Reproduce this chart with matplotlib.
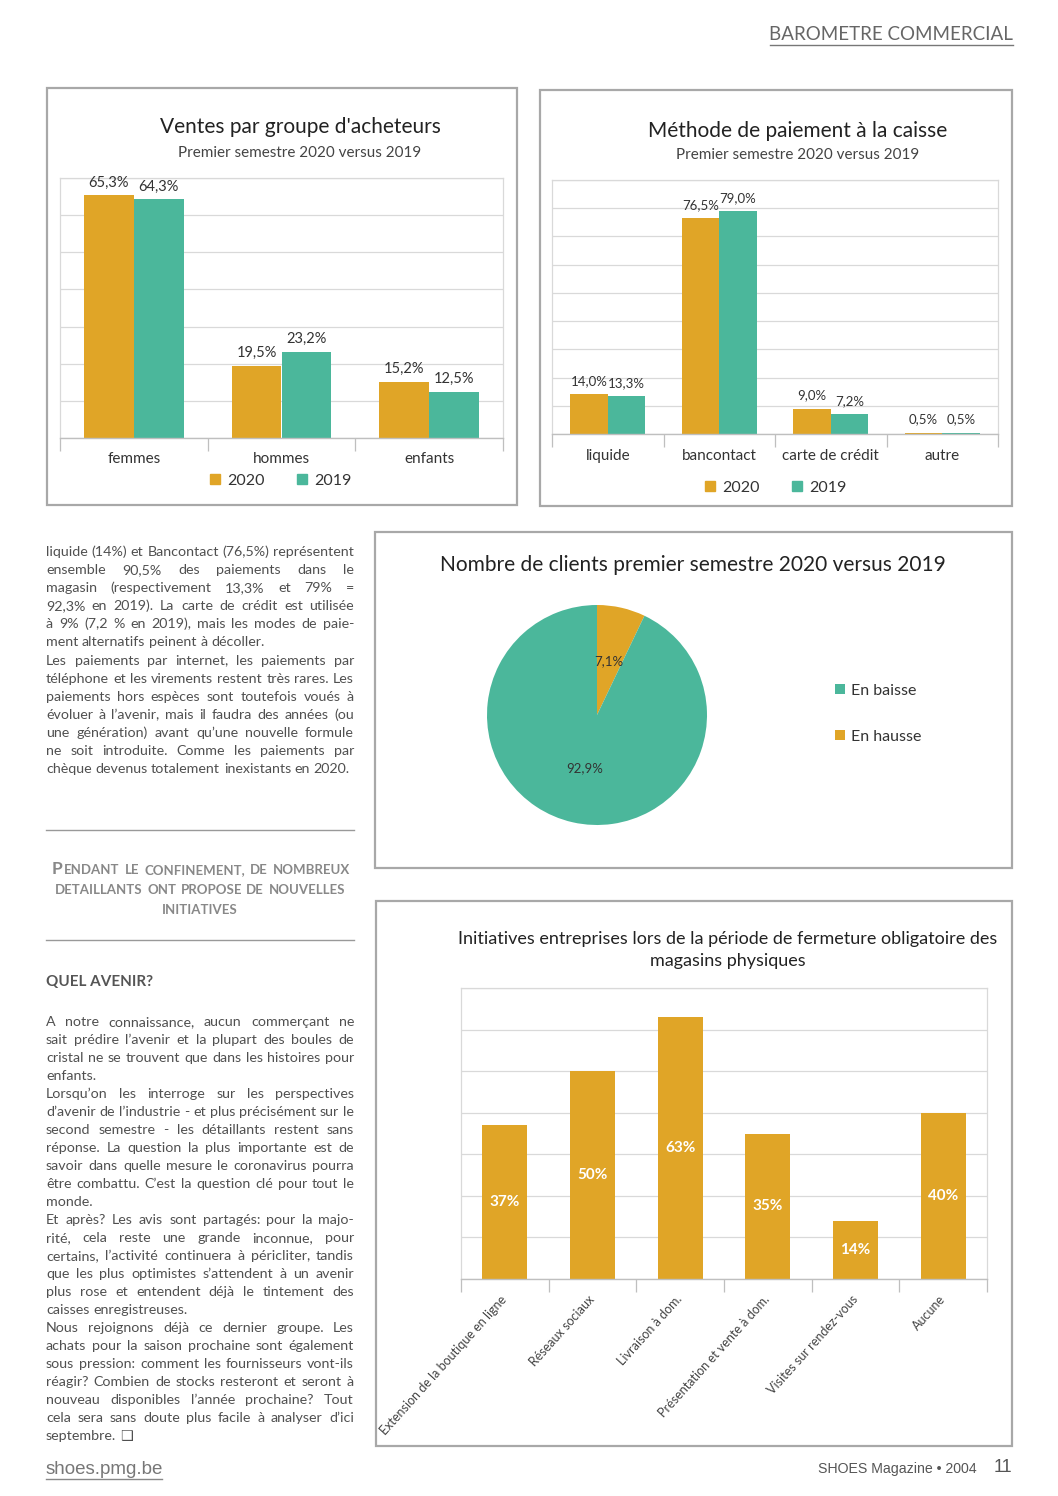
import matplotlib
matplotlib.use('Agg')
import matplotlib.pyplot as plt
from matplotlib.patches import Rectangle, Patch
from matplotlib.lines import Line2D
import numpy as np

plt.rcParams['font.family'] = ['Lato', 'DejaVu Sans']

# ---------------- data ----------------
groups = ['femmes', 'hommes', 'enfants']
ventes_2020 = [65.3, 19.5, 15.2]
ventes_2019 = [64.3, 23.2, 12.5]

methodes = ['liquide', 'bancontact', 'carte de crédit', 'autre']
paie_2020 = [14.0, 76.5, 9.0, 0.5]
paie_2019 = [13.3, 79.0, 7.2, 0.5]

pie_labels = ['En hausse', 'En baisse']
pie_values = [7.1, 92.9]

initiatives = ['Extension de la boutique en ligne', 'Réseaux sociaux', 'Livraison à dom.',
               'Présentation et vente à dom.', 'Visites sur rendez-vous', 'Aucune']
init_values = [37, 50, 63, 35, 14, 40]

years = ['2020', '2019']

para1 = [
    "liquide (14%) et Bancontact (76,5%) représentent",
    "ensemble 90,5% des paiements dans le",
    "magasin (respectivement 13,3% et 79% =",
    "92,3% en 2019). La carte de crédit est utilisée",
    "à 9% (7,2 % en 2019), mais les modes de paie-",
    "ment alternatifs peinent à décoller.|",
    "Les paiements par internet, les paiements par",
    "téléphone et les virements restent très rares. Les",
    "paiements hors espèces sont toutefois voués à",
    "évoluer à l’avenir, mais il faudra des années (ou",
    "une génération) avant qu’une nouvelle formule",
    "ne soit introduite. Comme les paiements par",
    "chèque devenus totalement inexistants en 2020.|",
]
para2 = [
    "A notre connaissance, aucun commerçant ne",
    "sait prédire l’avenir et la plupart des boules de",
    "cristal ne se trouvent que dans les histoires pour",
    "enfants.|",
    "Lorsqu’on les interroge sur les perspectives",
    "d’avenir de l’industrie - et plus précisément sur le",
    "second semestre - les détaillants restent sans",
    "réponse. La question la plus importante est de",
    "savoir dans quelle mesure le coronavirus pourra",
    "être combattu. C’est la question clé pour tout le",
    "monde.|",
    "Et après? Les avis sont partagés: pour la majo-",
    "rité, cela reste une grande inconnue, pour",
    "certains, l’activité continuera à péricliter, tandis",
    "que les plus optimistes s’attendent à un avenir",
    "plus rose et entendent déjà le tintement des",
    "caisses enregistreuses.|",
    "Nous rejoignons déjà ce dernier groupe. Les",
    "achats pour la saison prochaine sont également",
    "sous pression: comment les fournisseurs vont-ils",
    "réagir? Combien de stocks resteront et seront à",
    "nouveau disponibles l’année prochaine? Tout",
    "cela sera sans doute plus facile à analyser d’ici",
    "septembre. ❑|",
]
quote = ["PENDANT LE CONFINEMENT, DE NOMBREUX", "DETAILLANTS ONT PROPOSE DE NOUVELLES", "INITIATIVES"]

GOLD = '#E0A527'
TEAL = '#4BB79B'
TXT = '#333333'
BODY = '#505050'

W, H = 1058, 1496
fig = plt.figure(figsize=(W / 100, H / 100), dpi=100)
fig.patch.set_facecolor('white')
renderer = fig.canvas.get_renderer()


def fx(x):
    return x / W


def fy(y):
    return 1 - y / H


def axes_px(x0, y0, x1, y1):
    return fig.add_axes([x0 / W, 1 - y1 / H, (x1 - x0) / W, (y1 - y0) / H])


def box(x0, y0, x1, y1):
    fig.add_artist(Rectangle((fx(x0), fy(y1)), (x1 - x0) / W, (y1 - y0) / H,
                             transform=fig.transFigure, fill=False,
                             edgecolor='#a8a8a8', lw=1.6))


def hline(x0, x1, y, color='#999999', lw=1.0):
    fig.add_artist(Line2D([fx(x0), fx(x1)], [fy(y), fy(y)], transform=fig.transFigure,
                          color=color, lw=lw))


def style_axes(ax, ymax, n, pad):
    ax.set_ylim(0, ymax)
    ax.set_xlim(-0.5, n - 0.5)
    ax.set_yticks(np.arange(0, ymax + 1, 10))
    ax.tick_params(axis='y', length=0, labelleft=False)
    ax.grid(axis='y', color='#d9d9d9', lw=0.9)
    ax.set_axisbelow(True)
    for s in ['left', 'top', 'right']:
        ax.spines[s].set_color('#d9d9d9')
        ax.spines[s].set_linewidth(0.9)
    ax.spines['bottom'].set_color('#bfbfbf')
    ax.spines['bottom'].set_linewidth(1.0)
    ax.set_xticks(range(n))
    ax.set_xticks(np.arange(-0.5, n, 1), minor=True)
    ax.tick_params(axis='x', which='major', length=0, pad=pad, colors=TXT)
    ax.tick_params(axis='x', which='minor', length=9, color='#bfbfbf', width=0.9)


def fmt(v):
    return f"{v:.1f}%".replace('.', ',')


def justify(lines, x0, x1, y0, dy, size, color, weight='normal'):
    sp_a = fig.text(0, 0, 'a a', fontsize=size, weight=weight)
    sp_b = fig.text(0, 0, 'aa', fontsize=size, weight=weight)
    space = sp_a.get_window_extent(renderer).width - sp_b.get_window_extent(renderer).width
    sp_a.remove(); sp_b.remove()
    for i, line in enumerate(lines):
        last = line.endswith('|')
        line = line.rstrip('|')
        words = line.split(' ')
        y = y0 + i * dy
        texts, widths = [], []
        for w in words:
            t = fig.text(0, 0, w, fontsize=size, color=color, weight=weight,
                         va='baseline', ha='left')
            texts.append(t)
            widths.append(t.get_window_extent(renderer).width)
        if last or len(words) == 1:
            gap = space
        else:
            gap = (x1 - x0 - sum(widths)) / (len(words) - 1)
        x = x0
        for t, wd in zip(texts, widths):
            t.set_position((fx(x), fy(y)))
            x += wd + gap


# ---------------- header / footer ----------------
fig.text(fx(1013), fy(34), 'BAROMETRE COMMERCIAL', ha='right', va='center',
         fontsize=13.5, color='#666666')
hline(770, 1013, 45, '#777777', 1.0)
fig.text(fx(46), fy(1469), 'shoes.pmg.be', ha='left', va='center', fontsize=13.5,
         color='#777777', family='Liberation Sans')
hline(46, 162, 1479, '#888888', 1.0)
fig.text(fx(977), fy(1469), 'SHOES Magazine • 2004', ha='right', va='center', fontsize=10.2,
         color='#555555', family='Liberation Sans')
fig.text(fx(1012), fy(1467), '11', ha='right', va='center', fontsize=13,
         color='#555555', family='Liberation Sans')

# ---------------- chart 1 ----------------
box(47, 88, 517, 505)
fig.text(fx(300), fy(127), "Ventes par groupe d'acheteurs", ha='center', va='center',
         fontsize=15, color='#222222')
fig.text(fx(300), fy(153), 'Premier semestre 2020 versus 2019', ha='center', va='center',
         fontsize=11, color='#444444')
ax1 = axes_px(60, 178, 503, 438)
style_axes(ax1, 70, 3, 10)
x = np.arange(3)
bw = 0.338
b1 = ax1.bar(x - bw / 2, ventes_2020, bw, color=GOLD, label=years[0])
b2 = ax1.bar(x + bw / 2, ventes_2019, bw, color=TEAL, label=years[1])
ax1.set_xticklabels(groups, fontsize=11)
ax1.bar_label(b1, labels=[fmt(v) for v in ventes_2020], padding=4, fontsize=10.5, color=TXT)
ax1.bar_label(b2, labels=[fmt(v) for v in ventes_2019], padding=4, fontsize=10.5, color=TXT)
fig.legend(handles=[Patch(color=GOLD), Patch(color=TEAL)], labels=years, loc='center',
           bbox_to_anchor=(fx(281), fy(481)), ncol=2, frameon=False, fontsize=11.5,
           handlelength=0.6, handleheight=0.6, handletextpad=0.5, columnspacing=2.0,
           labelcolor=TXT)

# ---------------- chart 2 ----------------
box(540, 90, 1012, 506)
fig.text(fx(798), fy(131), 'Méthode de paiement à la caisse', ha='center', va='center',
         fontsize=15, color='#222222')
fig.text(fx(798), fy(155), 'Premier semestre 2020 versus 2019', ha='center', va='center',
         fontsize=11, color='#444444')
ax2 = axes_px(552, 180, 998, 434)
style_axes(ax2, 90, 4, 10.5)
x = np.arange(4)
bw = 0.336
c1 = ax2.bar(x - bw / 2, paie_2020, bw, color=GOLD, label=years[0])
c2 = ax2.bar(x + bw / 2, paie_2019, bw, color=TEAL, label=years[1])
ax2.set_xticklabels(methodes, fontsize=11)
ax2.bar_label(c1, labels=[fmt(v) for v in paie_2020], padding=5, fontsize=9.5, color=TXT)
ax2.bar_label(c2, labels=[fmt(v) for v in paie_2019], padding=5, fontsize=9.5, color=TXT)
fig.legend(handles=[Patch(color=GOLD), Patch(color=TEAL)], labels=years, loc='center',
           bbox_to_anchor=(fx(776), fy(488)), ncol=2, frameon=False, fontsize=11.5,
           handlelength=0.6, handleheight=0.6, handletextpad=0.5, columnspacing=2.0,
           labelcolor=TXT)

# ---------------- pie ----------------
box(375, 532, 1012, 868)
fig.text(fx(693), fy(565), 'Nombre de clients premier semestre 2020 versus 2019',
         ha='center', va='center', fontsize=15, color='#222222')
axp = axes_px(487, 605, 707, 825)
wedges, _, autotexts = axp.pie(pie_values, colors=[GOLD, TEAL], startangle=90,
                               counterclock=False, autopct=lambda p: fmt(p),
                               pctdistance=0.5, textprops=dict(fontsize=9.5, color=TXT))
axp.set_xlim(-1, 1)
axp.set_ylim(-1, 1)
fig.legend(handles=[wedges[1], wedges[0]], labels=[pie_labels[1], pie_labels[0]],
           loc='center left', bbox_to_anchor=(fx(821), fy(714)), frameon=False,
           fontsize=11.5, handlelength=0.6, handleheight=0.6, handletextpad=0.4,
           labelspacing=2.0, labelcolor=TXT)

# ---------------- chart 3 ----------------
box(376, 901, 1012, 1446)
fig.text(fx(728), fy(939), 'Initiatives entreprises lors de la période de fermeture obligatoire des',
         ha='center', va='center', fontsize=13, color='#222222')
fig.text(fx(728), fy(961), 'magasins physiques', ha='center', va='center', fontsize=13,
         color='#222222')
ax3 = axes_px(461, 988, 987, 1279)
style_axes(ax3, 70, 6, 13)
x = np.arange(6)
d = ax3.bar(x, init_values, 0.513, color=GOLD)
ax3.bar_label(d, labels=[f"{v}%" for v in init_values], label_type='center',
              fontsize=11, color='white', weight='bold')
ax3.set_xticklabels(initiatives, fontsize=9.0, color='#444444')
for lbl in ax3.get_xticklabels():
    lbl.set_rotation(48)
    lbl.set_ha('right')
    lbl.set_va('center')
    lbl.set_rotation_mode('anchor')

# ---------------- text column ----------------
justify(para1, 46, 354, 556, 18.1, 10.3, BODY)
hline(46, 354, 830, '#999999', 1.0)
hline(46, 354, 940, '#999999', 1.0)
# pull quote
fig.text(fx(52), fy(874), quote[0][0], fontsize=12.5, color='#888888', weight='bold',
         va='baseline', ha='left')
justify([quote[0][1:]], 64, 350, 874, 20, 9.5, '#888888', weight='bold')
justify([quote[1]], 55, 345, 894, 20, 9.5, '#888888', weight='bold')
fig.text(fx(200), fy(914), quote[2], fontsize=9.5, color='#888888', weight='bold',
         va='baseline', ha='center')
fig.text(fx(46), fy(982), 'QUEL AVENIR?', fontsize=11, color='#555555', weight='bold',
         va='center', ha='left')
justify(para2, 46, 354, 1026, 18.0, 10.3, BODY)

fig.savefig('out.png', dpi=100, facecolor='white')
